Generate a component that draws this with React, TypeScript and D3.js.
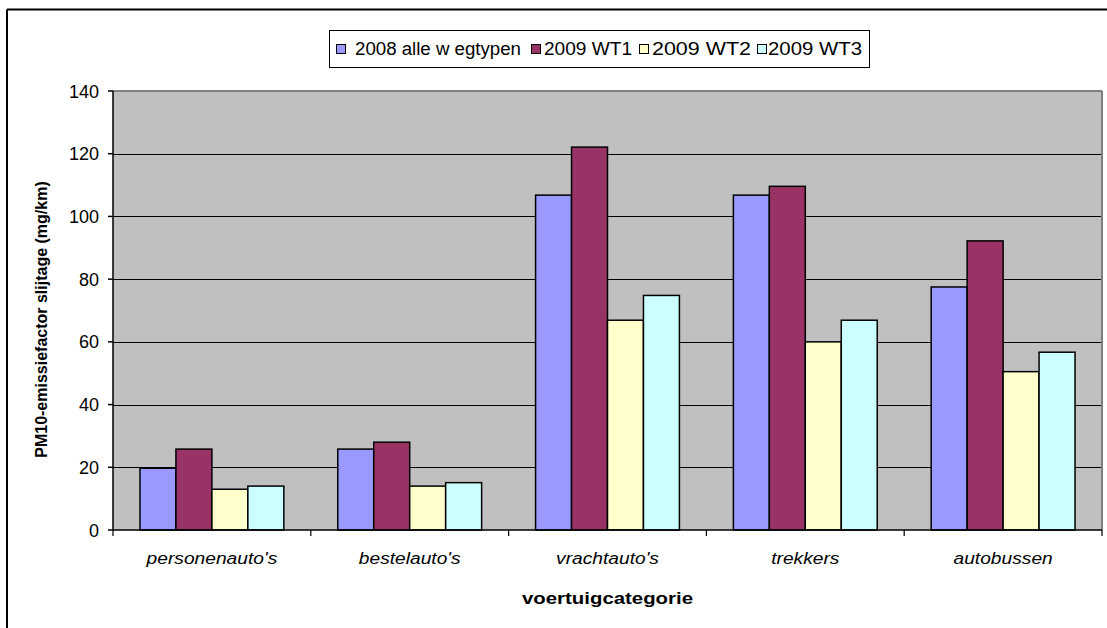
import React from "react";
import * as d3 from "d3";

const categories = ["personenauto's", "bestelauto's", "vrachtauto's", "trekkers", "autobussen"];
const seriesNames = ["2008 alle w egtypen", "2009 WT1", "2009 WT2", "2009 WT3"];
const s2008 = [19.7, 25.8, 106.8, 106.8, 77.5];
const s2009WT1 = [25.8, 28.0, 122.1, 109.6, 92.2];
const s2009WT2 = [13.0, 14.0, 66.9, 60.0, 50.5];
const s2009WT3 = [14.0, 15.1, 74.8, 66.9, 56.7];
const yTicks = [0, 20, 40, 60, 80, 100, 120, 140];
const colors = ["#9999FF", "#993366", "#FFFFCC", "#CCFFFF"];

const W = 1107;
const H = 628;
const plot = { left: 113, right: 1102, top: 91, bottom: 530 };
const FONT = "'Liberation Sans', Arial, Helvetica, sans-serif";

export default function App() {
  const series = [s2008, s2009WT1, s2009WT2, s2009WT3];
  const x0 = d3.scaleBand().domain(categories).range([plot.left, plot.right]).padding(0);
  const x1 = d3
    .scaleBand()
    .domain(seriesNames)
    .range([0, x0.bandwidth()])
    .paddingInner(0)
    .paddingOuter(0.75);
  const y = d3.scaleLinear().domain([0, 140]).range([plot.bottom, plot.top]);

  const legendItems = [
    { sq: 336, tx: 355, len: 166 },
    { sq: 531, tx: 544, len: 88 },
    { sq: 639, tx: 652, len: 99 },
    { sq: 757, tx: 768, len: 94 },
  ];

  const boundaries = categories.map((c) => x0(c) as number).concat([plot.right]);

  return (
    <svg
      width={W}
      height={H}
      style={{ position: "absolute", left: 0, top: 0, background: "#fff" }}
      fontFamily={FONT}
    >
      <rect x={0} y={0} width={W} height={H} fill="#fff" />
      {/* outer frame */}
      <line x1={7} y1={9.5} x2={W} y2={9.5} stroke="#000" strokeWidth={2} />
      <line x1={7} y1={9.5} x2={7} y2={H} stroke="#000" strokeWidth={2} />

      {/* plot area */}
      <rect
        x={plot.left}
        y={plot.top}
        width={plot.right - plot.left}
        height={plot.bottom - plot.top}
        fill="#C0C0C0"
      />
      {/* gridlines */}
      {yTicks
        .filter((t) => t > 0 && t < 140)
        .map((t) => (
          <line
            key={"g" + t}
            x1={plot.left}
            x2={plot.right}
            y1={Math.round(y(t)) + 0.5}
            y2={Math.round(y(t)) + 0.5}
            stroke="#000"
            strokeWidth={1}
          />
        ))}
      {/* top / right border */}
      <line x1={plot.left} x2={plot.right} y1={plot.top} y2={plot.top} stroke="#808080" strokeWidth={2} />
      <line x1={plot.right} x2={plot.right} y1={plot.top} y2={plot.bottom} stroke="#808080" strokeWidth={2} />

      {/* bars */}
      {categories.map((c, ci) => (
        <g key={c} transform={`translate(${x0(c)},0)`}>
          {series.map((s, si) => (
            <rect
              key={si}
              x={x1(seriesNames[si]) as number}
              y={y(s[ci])}
              width={x1.bandwidth()}
              height={plot.bottom - y(s[ci])}
              fill={colors[si]}
              stroke="#000"
              strokeWidth={1.5}
            />
          ))}
        </g>
      ))}

      {/* axes */}
      <line x1={plot.left} x2={plot.left} y1={plot.top} y2={plot.bottom} stroke="#000" strokeWidth={1.5} />
      <line x1={plot.left} x2={plot.right} y1={plot.bottom} y2={plot.bottom} stroke="#000" strokeWidth={1.5} />
      {yTicks.map((t) => (
        <g key={"t" + t}>
          <line x1={plot.left - 5} x2={plot.left} y1={y(t)} y2={y(t)} stroke="#000" strokeWidth={1.5} />
          <text x={99} y={y(t) + 6.5} textAnchor="end" fontSize={18} fill="#000">
            {t}
          </text>
        </g>
      ))}
      {boundaries.map((b, i) => (
        <line key={"xt" + i} x1={b} x2={b} y1={plot.bottom} y2={plot.bottom + 6} stroke="#000" strokeWidth={1.2} />
      ))}
      {categories.map((c) => {
        const cx = (x0(c) as number) + x0.bandwidth() / 2;
        return (
          <text
            key={"cl" + c}
            transform={`translate(${cx},564) scale(1.13,1)`}
            textAnchor="middle"
            fontSize={17}
            fontStyle="italic"
            fill="#000"
          >
            {c}
          </text>
        );
      })}

      {/* axis titles */}
      <text
        x={(plot.left + plot.right) / 2}
        y={604}
        textAnchor="middle"
        fontSize={16}
        fontWeight="bold"
        textLength={171}
        lengthAdjust="spacingAndGlyphs"
        fill="#000"
      >
        voertuigcategorie
      </text>
      <text
        transform={`translate(47,${(plot.top + plot.bottom) / 2 + 9}) rotate(-90)`}
        textAnchor="middle"
        fontSize={16}
        fontWeight="bold"
        fill="#000"
      >
        PM10-emissiefactor slijtage (mg/km)
      </text>

      {/* legend */}
      <rect x={329.5} y={30.5} width={540} height={37} fill="#fff" stroke="#000" strokeWidth={1} />
      {seriesNames.map((n, i) => (
        <g key={"lg" + n}>
          <rect
            x={legendItems[i].sq + 0.5}
            y={44.5}
            width={9}
            height={9}
            fill={colors[i]}
            stroke="#000"
            strokeWidth={1}
          />
          <text
            x={legendItems[i].tx}
            y={55}
            fontSize={18}
            textLength={legendItems[i].len}
            lengthAdjust="spacingAndGlyphs"
            fill="#000"
          >
            {n}
          </text>
        </g>
      ))}
    </svg>
  );
}
